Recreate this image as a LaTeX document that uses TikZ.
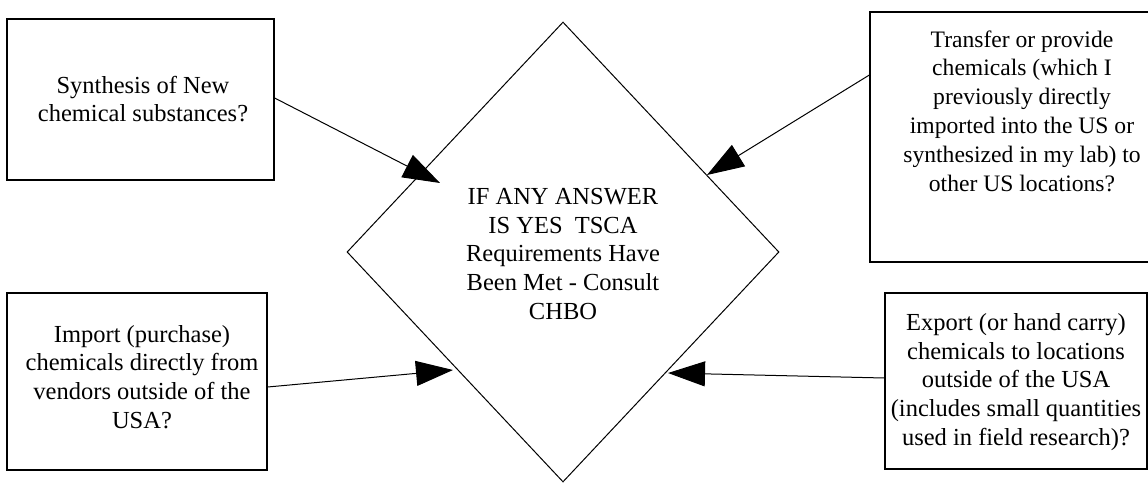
\documentclass[tikz,border=0pt]{standalone}
\usepackage{fontspec}
\setmainfont{Liberation Serif}
\usetikzlibrary{shapes.geometric,arrows.meta}
\begin{document}
\begin{tikzpicture}[x=1pt,y=-1pt,
  qbox/.style={draw, line width=1.3pt, inner sep=0pt},
  qtext/.style={align=center, font=\fontsize{24.5}{28.8}\selectfont, inner sep=0pt},
  decision/.style={draw, diamond, line width=1pt, inner sep=0pt,
    minimum width=432pt, minimum height=460pt},
  arr/.style={line width=1pt, -{Triangle[length=37pt,width=25pt]}}]
\clip (0,0) rectangle (1148,482);
\fill[white] (0,0) rectangle (1148,482);

% boxes
\node[qbox, minimum width=267pt, minimum height=161pt] (b1) at (140.5,99.5) {};
\node[qbox, minimum width=316pt, minimum height=250pt] (b2) at (1028,137) {};
\node[qbox, minimum width=260pt, minimum height=177pt] (b3) at (137,381.5) {};
\node[qbox, minimum width=262pt, minimum height=176pt] (b4) at (1016,381) {};

% texts
\node[qtext] (t1) at (143,99) {Synthesis of New\\chemical substances?};
\node[qtext, font=\fontsize{23.6}{28.8}\selectfont] (t2) at (1022,111) {Transfer or provide\\chemicals (which I\\previously directly\\imported into the US or\\synthesized in my lab) to\\other US locations?};
\node[qtext] (t3) at (142,377) {Import (purchase)\\chemicals directly from\\vendors outside of the\\USA?};
\node[qtext] (t4) at (1016,382) {Export (or hand carry)\\chemicals to locations\\outside of the USA\\(includes small quantities\\used in field research)?};

% decision
\node[decision] (d) at (563,252) {};
\node[qtext] (dt) at (563,254) {IF ANY ANSWER\\IS YES\ \ TSCA\\Requirements Have\\Been Met - Consult\\CHBO};

% connector end points
\coordinate (y1) at (0,98);
\coordinate (y2) at (0,75);
\coordinate (y3) at (0,387);
\coordinate (y4) at (0,378);
\coordinate (e1) at (440,183);
\coordinate (e2) at (707,175);
\coordinate (e3) at (453,370);
\coordinate (e4) at (668,373);

\draw[arr] (b1.east |- y1) -- (e1);
\draw[arr] (b2.west |- y2) -- (e2);
\draw[arr] (b3.east |- y3) -- (e3);
\draw[arr] (b4.west |- y4) -- (e4);
\end{tikzpicture}
\end{document}
